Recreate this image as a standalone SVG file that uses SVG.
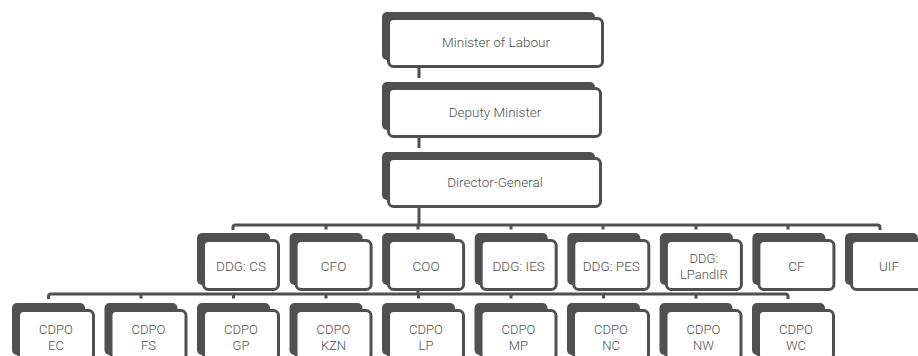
<svg xmlns="http://www.w3.org/2000/svg" width="918" height="356" viewBox="0 0 918 356">
<style>
.bk{fill:#505050}
.bx{fill:#fff;stroke:#505050;stroke-width:3}
.t{font-family:Roboto,"Liberation Sans",sans-serif;font-size:13.5px;font-weight:300;fill:#505050;text-anchor:middle}
.s{font-size:13px}
.c{fill:none;stroke:#505050;stroke-width:3;stroke-linecap:butt}
</style>
<rect width="918" height="356" fill="#fff"/>
<g id="connectors">
<path class="c" d="M419,68V78M419,138V148M419,208V225"/>
<path class="c" d="M233,230V227.5Q233,225 235.5,225H877.5Q880,225 880,227.5V230"/>
<path class="c" d="M326,225V229.5M418,225V229.5M511,225V229.5M603,225V229.5M696,225V229.5M788,225V229.5"/>
<path class="c" d="M418,291V294"/>
<path class="c" d="M48.5,299V296.5Q48.5,294 51,294H785.5Q788,294 788,296.5V299"/>
<path class="c" d="M141,294V298.5M233.5,294V298.5M326,294V298.5M418.5,294V298.5M511,294V298.5M603.5,294V298.5M696,294V298.5"/>
</g>
<g id="n-minister"><rect class="bk" x="382" y="12" width="213" height="48" rx="5"/><rect class="bx" x="388.5" y="18.5" width="214" height="48" rx="5"/><text class="t" x="496" y="47">Minister of Labour</text></g>
<g id="n-deputy"><rect class="bk" x="382" y="82" width="213" height="48" rx="5"/><rect class="bx" x="388.5" y="88.5" width="212" height="48" rx="5"/><text class="t" x="495" y="117">Deputy Minister</text></g>
<g id="n-dg"><rect class="bk" x="382" y="152" width="213" height="48" rx="5"/><rect class="bx" x="388.5" y="158.5" width="212" height="48" rx="5"/><text class="t" x="495" y="187">Director-General</text></g>

<g id="n-ddgcs"><rect class="bk" x="197" y="233" width="73" height="52" rx="5"/><rect class="bx" x="203.5" y="240.5" width="75" height="49" rx="5"/><text class="t" x="241" y="271">DDG: CS</text></g>
<g id="n-cfo"><rect class="bk" x="289.6" y="233" width="73" height="52" rx="5"/><rect class="bx" x="296.1" y="240.5" width="75" height="49" rx="5"/><text class="t" x="333.6" y="271">CFO</text></g>
<g id="n-coo"><rect class="bk" x="382.1" y="233" width="73" height="52" rx="5"/><rect class="bx" x="388.6" y="240.5" width="75" height="49" rx="5"/><text class="t" x="426.1" y="271">COO</text></g>
<g id="n-ddgies"><rect class="bk" x="474.7" y="233" width="73" height="52" rx="5"/><rect class="bx" x="481.2" y="240.5" width="75" height="49" rx="5"/><text class="t" x="518.7" y="271">DDG: IES</text></g>
<g id="n-ddgpes"><rect class="bk" x="567.3" y="233" width="73" height="52" rx="5"/><rect class="bx" x="573.8" y="240.5" width="75" height="49" rx="5"/><text class="t" x="611.3" y="271">DDG: PES</text></g>
<g id="n-ddglp"><rect class="bk" x="659.9" y="233" width="73" height="52" rx="5"/><rect class="bx" x="666.4" y="240.5" width="75" height="49" rx="5"/><text class="t s" x="703.9" y="263">DDG:</text><text class="t s" x="703.9" y="278.5">LPandIR</text></g>
<g id="n-cf"><rect class="bk" x="752.4" y="233" width="73" height="52" rx="5"/><rect class="bx" x="758.9" y="240.5" width="75" height="49" rx="5"/><text class="t" x="796.4" y="271">CF</text></g>
<g id="n-uif"><rect class="bk" x="845" y="233" width="73" height="52" rx="5"/><rect class="bx" x="851.5" y="240.5" width="75" height="49" rx="5"/><text class="t" x="889" y="271">UIF</text></g>

<g id="n-ec"><rect class="bk" x="12" y="303" width="73" height="52" rx="5"/><rect class="bx" x="18.5" y="310.5" width="75" height="49" rx="5"/><text class="t s" x="56" y="334">CDPO</text><text class="t s" x="56" y="349.5">EC</text></g>
<g id="n-fs"><rect class="bk" x="104.5" y="303" width="73" height="52" rx="5"/><rect class="bx" x="111" y="310.5" width="75" height="49" rx="5"/><text class="t s" x="148.5" y="334">CDPO</text><text class="t s" x="148.5" y="349.5">FS</text></g>
<g id="n-gp"><rect class="bk" x="197" y="303" width="73" height="52" rx="5"/><rect class="bx" x="203.5" y="310.5" width="75" height="49" rx="5"/><text class="t s" x="241" y="334">CDPO</text><text class="t s" x="241" y="349.5">GP</text></g>
<g id="n-kzn"><rect class="bk" x="289.5" y="303" width="73" height="52" rx="5"/><rect class="bx" x="296" y="310.5" width="75" height="49" rx="5"/><text class="t s" x="333.5" y="334">CDPO</text><text class="t s" x="333.5" y="349.5">KZN</text></g>
<g id="n-lp"><rect class="bk" x="382" y="303" width="73" height="52" rx="5"/><rect class="bx" x="388.5" y="310.5" width="75" height="49" rx="5"/><text class="t s" x="426" y="334">CDPO</text><text class="t s" x="426" y="349.5">LP</text></g>
<g id="n-mp"><rect class="bk" x="474.5" y="303" width="73" height="52" rx="5"/><rect class="bx" x="481" y="310.5" width="75" height="49" rx="5"/><text class="t s" x="518.5" y="334">CDPO</text><text class="t s" x="518.5" y="349.5">MP</text></g>
<g id="n-nc"><rect class="bk" x="567" y="303" width="73" height="52" rx="5"/><rect class="bx" x="573.5" y="310.5" width="75" height="49" rx="5"/><text class="t s" x="611" y="334">CDPO</text><text class="t s" x="611" y="349.5">NC</text></g>
<g id="n-nw"><rect class="bk" x="659.5" y="303" width="73" height="52" rx="5"/><rect class="bx" x="666" y="310.5" width="75" height="49" rx="5"/><text class="t s" x="703.5" y="334">CDPO</text><text class="t s" x="703.5" y="349.5">NW</text></g>
<g id="n-wc"><rect class="bk" x="752" y="303" width="73" height="52" rx="5"/><rect class="bx" x="758.5" y="310.5" width="75" height="49" rx="5"/><text class="t s" x="796" y="334">CDPO</text><text class="t s" x="796" y="349.5">WC</text></g>
</svg>
